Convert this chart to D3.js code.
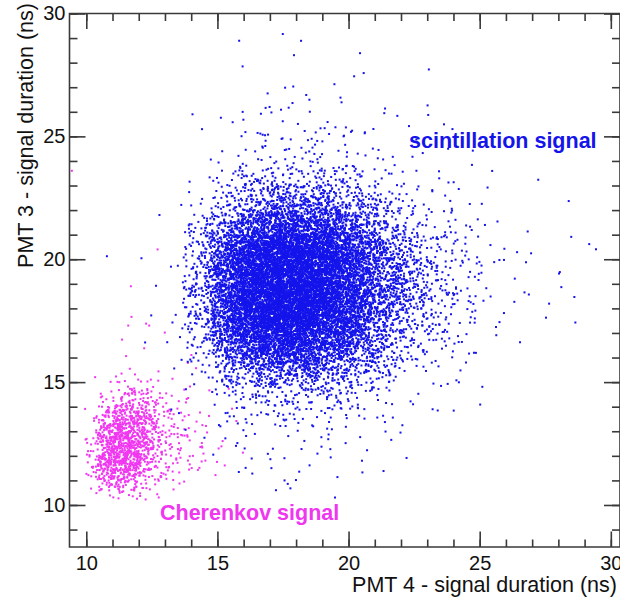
<!DOCTYPE html>
<html><head><meta charset="utf-8">
<script src="https://cdn.jsdelivr.net/npm/d3@7"></script>
<style>html,body{margin:0;padding:0;background:#fff;} svg{display:block;}</style>
</head><body>
<svg id="chart" width="620" height="601"></svg>
<script>
(function(){
// ---- axis ticks ----
const xMajorTicks = [10, 15, 20, 25, 30];
const yMajorTicks = [10, 15, 20, 25, 30];
const xMinorTicks = d3.range(10, 31, 1);
const yMinorTicks = d3.range(9, 31, 1);
const xTitle = "PMT 4 - signal duration (ns)";
const yTitle = "PMT 3 - signal duration (ns)";
const scintLabel = "scintillation signal";
const cherLabel = "Cherenkov signal";

// ---- scintillation (blue) population: counts per 1 ns x 1 ns cell ----
const blueCellX = [9,10,11,12,13,14,15,16,17,18,19,20,21,22,23,24,25,26,27,28,29];
const blueCellY = [28,27,26,25,24,23,22,21,20,19,18,17,16,15,14,13,12,11,10];
const blueCounts = [
 [0,0,0,0,0,0,0,1,2,1,0,1,0,0,0,0,0,0,0,0,0],
 [0,0,0,0,0,0,0,1,0,0,1,2,0,1,0,0,0,0,0,0,0],
 [0,0,0,0,0,0,1,2,2,3,2,0,1,0,1,0,0,0,0,0,0],
 [0,0,0,0,0,1,2,4,5,4,4,3,2,1,1,0,0,0,0,0,0],
 [0,0,0,0,0,1,4,8,10,10,8,6,3,3,2,1,0,0,0,0,0],
 [0,0,0,0,0,2,10,22,28,28,22,14,8,4,3,2,1,0,0,0,0],
 [0,0,0,0,1,5,30,70,88,88,70,40,18,8,4,2,1,0,1,0,0],
 [0,0,0,0,2,18,100,200,235,235,185,110,52,22,10,5,2,1,0,1,0],
 [0,0,0,1,3,40,240,420,500,490,360,215,105,45,20,10,3,2,1,1,1],
 [0,0,1,1,4,60,300,490,570,550,400,245,125,55,25,12,3,2,2,1,1],
 [0,0,0,1,4,65,310,500,580,550,400,245,125,55,25,12,3,2,1,1,0],
 [0,0,0,1,3,55,270,460,530,480,360,215,105,45,20,9,3,2,1,0,1],
 [0,0,0,0,2,30,165,305,350,320,230,135,62,25,12,5,2,1,0,0,0],
 [0,0,0,0,1,10,55,110,130,120,92,54,26,10,5,2,1,0,0,0,0],
 [0,0,0,0,1,4,14,25,30,28,22,14,8,4,2,1,0,0,0,0,0],
 [0,0,0,0,0,2,6,9,10,9,8,5,3,2,1,0,0,0,0,0,0],
 [0,0,0,0,0,1,3,4,5,5,4,3,2,1,0,0,0,0,0,0,0],
 [0,0,0,0,0,1,2,2,2,2,2,1,1,0,0,0,0,0,0,0,0],
 [0,0,0,0,0,0,0,1,1,1,1,0,0,0,0,0,0,0,0,0,0]
];

// ---- Cherenkov (magenta) population: counts per 0.5 ns x 0.5 ns cell ----
const pinkCellX = [10,10.5,11,11.5,12,12.5,13,13.5,14,14.5,15,15.5];
const pinkCellY = [17.5,17,16.5,16,15.5,15,14.5,14,13.5,13,12.5,12,11.5,11,10.5,10];
const pinkCounts = [
 [0,0,0,1,0,0,0,0,0,0,0,0],
 [0,0,0,0,1,0,0,0,0,0,0,0],
 [0,0,1,0,0,0,1,0,0,0,0,0],
 [0,0,0,0,1,0,0,0,1,0,0,0],
 [0,0,1,1,0,1,0,1,0,0,0,0],
 [0,1,2,2,2,1,1,0,1,0,0,0],
 [0,2,4,7,6,3,2,1,1,0,1,0],
 [0,6,15,20,16,7,3,2,1,1,0,0],
 [1,17,35,36,26,11,4,3,2,1,1,0],
 [2,30,52,48,32,13,6,4,2,1,0,1],
 [5,44,64,55,35,15,7,4,2,2,1,0],
 [7,52,70,58,33,14,6,4,3,2,1,1],
 [7,48,64,48,27,11,5,4,3,1,1,0],
 [5,35,48,34,18,8,4,3,2,1,0,0],
 [2,16,23,16,8,3,2,1,0,0,0,0],
 [0,1,2,2,1,1,0,0,0,0,0,0]
];
// isolated magenta points
const pinkExtraX = [9.45, 12.72, 11.7, 12.4, 11.6];
const pinkExtraY = [23.6, 20.4, 18.9, 17.3, 17.3];

// ---- layout ----
const W = 620, H = 601;
const mLeft = 69.5, mRight = 620, mTop = 13.5, mBottom = 547;
const x = d3.scaleLinear().domain([9.36, 30.35]).range([mLeft, mRight]);
const y = d3.scaleLinear().domain([8.29, 30]).range([mBottom, mTop]);

const BLUE = "rgb(20,20,235)";
const PINK = "rgb(240,55,240)";
const AXIS = "#3a3a3a";
const FONT = "'Liberation Sans', Arial, Helvetica, sans-serif";

// place each counted point inside its cell (deterministic hash spread, triangular footprint)
function hash01(n) {
  n = Math.imul(n ^ (n >>> 16), 0x45d9f3b);
  n = Math.imul(n ^ (n >>> 16), 0x45d9f3b);
  n ^= n >>> 16;
  return (n >>> 0) / 4294967296;
}
let gi = 1000;
function cellsToPoints(cx, cy, counts, w) {
  const pts = [];
  counts.forEach((row, r) => row.forEach((n, c) => {
    for (let k = 0; k < n; k++) {
      gi++;
      const b = gi * 4;
      const dx = hash01(b) + hash01(b + 1) - 1;
      const dy = hash01(b + 2) + hash01(b + 3) - 1;
      pts.push({x: cx[c] + w/2 + w*dx, y: cy[r] + w/2 + w*dy});
    }
  }));
  return pts;
}
const bluePts = cellsToPoints(blueCellX, blueCellY, blueCounts, 1);
const pinkPts = cellsToPoints(pinkCellX, pinkCellY, pinkCounts, 0.5)
  .concat(pinkExtraX.map((v, i) => ({x: v, y: pinkExtraY[i]})));

const svg = d3.select("#chart");
svg.append("rect").attr("width", W).attr("height", H).attr("fill", "#fff");
svg.append("clipPath").attr("id", "plotclip").append("rect")
  .attr("x", mLeft).attr("y", mTop).attr("width", mRight - mLeft).attr("height", mBottom - mTop);

const S = 2.0;
const gPts = svg.append("g").attr("clip-path", "url(#plotclip)");
gPts.append("g").selectAll("rect").data(pinkPts).join("rect")
  .attr("x", d => x(d.x) - S/2).attr("y", d => y(d.y) - S/2)
  .attr("width", S).attr("height", S).attr("fill", PINK);
gPts.append("g").selectAll("rect").data(bluePts).join("rect")
  .attr("x", d => x(d.x) - S/2).attr("y", d => y(d.y) - S/2)
  .attr("width", S).attr("height", S).attr("fill", BLUE);

// ---- axes ----
function styleAxis(g) {
  g.select(".domain").remove();
  g.selectAll("line").attr("stroke", AXIS).attr("stroke-width", 1.6);
  g.selectAll("text").attr("fill", "#111").style("font-family", FONT).style("font-size", "20px");
}
// bottom
svg.append("g").attr("transform", `translate(0,${mBottom})`)
  .call(d3.axisBottom(x).tickValues(xMinorTicks).tickSize(-7.5).tickFormat("")).call(styleAxis);
svg.append("g").attr("transform", `translate(0,${mBottom})`)
  .call(d3.axisBottom(x).tickValues(xMajorTicks).tickSize(-15.5).tickPadding(9).tickFormat(d3.format("d"))).call(styleAxis);
// top
svg.append("g").attr("transform", `translate(0,${mTop})`)
  .call(d3.axisTop(x).tickValues(xMinorTicks).tickSize(-7.5).tickFormat("")).call(styleAxis);
svg.append("g").attr("transform", `translate(0,${mTop})`)
  .call(d3.axisTop(x).tickValues(xMajorTicks).tickSize(-15.5).tickFormat("")).call(styleAxis);
// left
svg.append("g").attr("transform", `translate(${mLeft},0)`)
  .call(d3.axisLeft(y).tickValues(yMinorTicks).tickSize(-8).tickFormat("")).call(styleAxis);
svg.append("g").attr("transform", `translate(${mLeft},0)`)
  .call(d3.axisLeft(y).tickValues(yMajorTicks).tickSize(-16).tickPadding(4).tickFormat(d3.format("d"))).call(styleAxis);
// right
svg.append("g").attr("transform", `translate(${mRight},0)`)
  .call(d3.axisRight(y).tickValues(yMinorTicks).tickSize(-8).tickFormat("")).call(styleAxis);
svg.append("g").attr("transform", `translate(${mRight},0)`)
  .call(d3.axisRight(y).tickValues(yMajorTicks).tickSize(-16).tickFormat("")).call(styleAxis);

// frame
svg.append("path")
  .attr("d", `M${mLeft},${mBottom}V${mTop}H${mRight}V${mBottom}Z`)
  .attr("fill", "none").attr("stroke", AXIS).attr("stroke-width", 1.6);

// axis titles
svg.append("text").attr("x", 617).attr("y", 592).attr("text-anchor", "end")
  .style("font-family", FONT).style("font-size", "21.5px").attr("fill", "#111").text(xTitle);
svg.append("text").attr("transform", "translate(33,3) rotate(-90)").attr("text-anchor", "end")
  .style("font-family", FONT).style("font-size", "21.5px").attr("fill", "#111").text(yTitle);

// annotations
svg.append("text").attr("x", 409).attr("y", 148)
  .style("font-family", FONT).style("font-size", "21.5px").style("font-weight", "bold")
  .attr("fill", BLUE).text(scintLabel);
svg.append("text").attr("x", 160).attr("y", 520)
  .style("font-family", FONT).style("font-size", "21.5px").style("font-weight", "bold")
  .attr("fill", PINK).text(cherLabel);
})();
</script>
</body></html>
